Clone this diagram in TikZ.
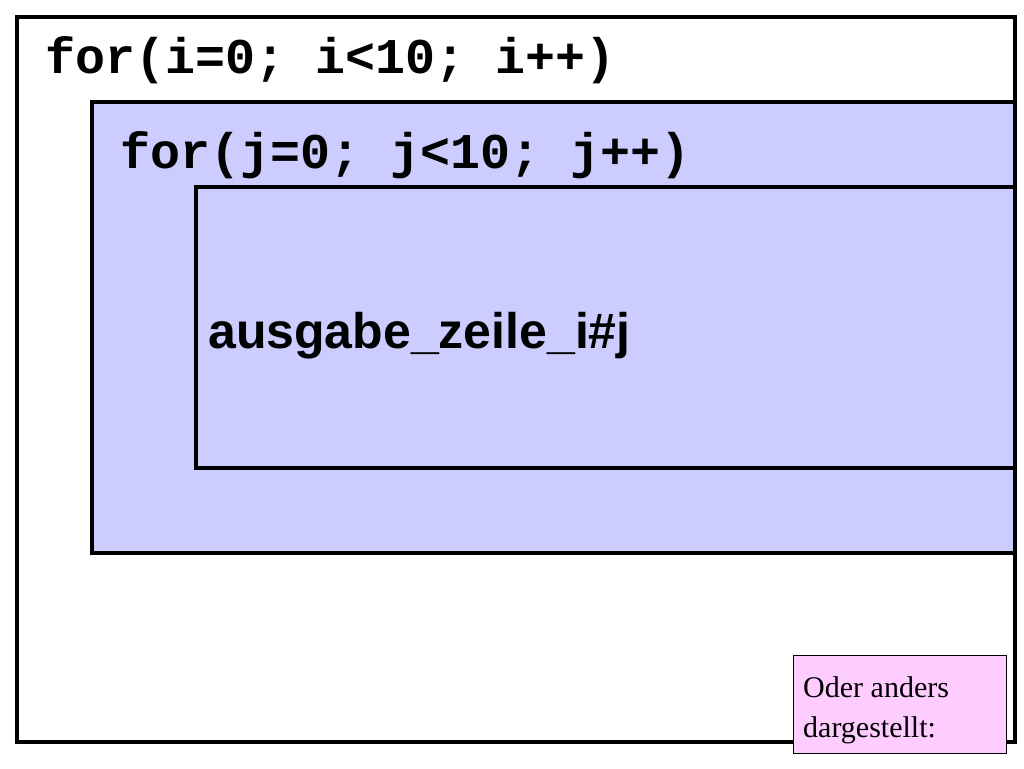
\documentclass[tikz,border=0pt]{standalone}
\usepackage{fontspec}
\setmainfont{Liberation Serif}
\newfontfamily\codefont{Liberation Mono}
\newfontfamily\sansb{Liberation Sans}
\definecolor{lblue}{HTML}{CCCCFF}
\definecolor{lpink}{HTML}{FFCCFF}
\begin{document}
\begin{tikzpicture}[x=1pt,y=-1pt,
  box/.style={draw=black,line width=3.5pt},
  code/.style={anchor=base west,inner sep=0pt,font=\codefont\bfseries\fontsize{50}{56}\selectfont}]
\useasboundingbox (0,0) rectangle (1024,768);
\fill[white] (0,0) rectangle (1024,768);
\draw[box,fill=lblue] (92,102) rectangle (1015,553);
\draw[box,fill=lblue] (196,187) rectangle (1015,468);
\draw[box] (17,17) rectangle (1015,742);
\node[code] (ti) at (45,73) {for(i=0; i<10; i++)};
\node[code] (tj) at (120,168) {for(j=0; j<10; j++)};
\node[anchor=base west,inner sep=0pt,font=\sansb\bfseries\fontsize{50}{56}\selectfont] (ta) at (208,348) {ausgabe\_zeile\_i\#j};
\node[draw=black,line width=0.8pt,fill=lpink,anchor=north west,minimum width=213pt,minimum height=98pt,inner sep=0pt] (pk) at (793,655) {};
\node[anchor=base west,align=left,inner sep=0pt,font=\fontsize{30}{40}\selectfont] (pt) at (803,737) {Oder anders\\dargestellt:};
\end{tikzpicture}
\end{document}
